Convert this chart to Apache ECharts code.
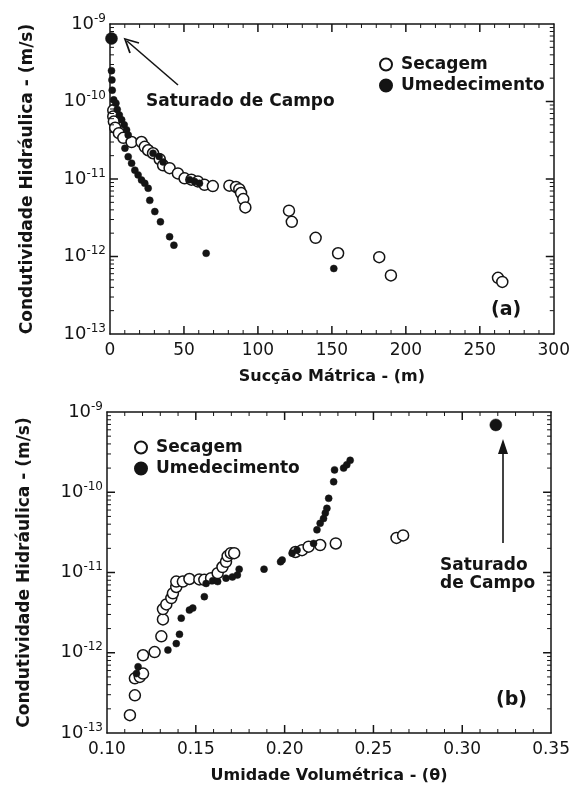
<!DOCTYPE html>
<html>
<head>
<meta charset="utf-8">
<script src="https://cdn.jsdelivr.net/npm/echarts@6/dist/echarts.min.js"></script>
<style>
  html, body { margin: 0; padding: 0; background: #fff; }
  #chart { width: 573px; height: 791px; }
</style>
</head>
<body>
<div id="chart"></div>
<script>
// (a) condutividade x succao matrica
const secagemA = [
  [2.2, 7.7e-11], [2.2, 6.4e-11], [2.6, 5.5e-11], [3.5, 4.6e-11], [6, 3.9e-11], [9, 3.4e-11],
  [14.6, 3.0e-11], [21.3, 3.0e-11], [23.5, 2.6e-11], [25.8, 2.35e-11], [29.1, 2.15e-11],
  [33.6, 1.8e-11], [35.9, 1.5e-11], [40.3, 1.38e-11], [45.9, 1.18e-11], [50.4, 1.02e-11],
  [55, 9.8e-12], [59.4, 9.3e-12], [63.9, 8.4e-12], [69.5, 8.1e-12], [80.7, 8.2e-12],
  [85.2, 7.9e-12], [87.4, 7.4e-12], [88.6, 6.6e-12], [90.1, 5.5e-12], [91.5, 4.3e-12],
  [121, 3.9e-12], [122.9, 2.8e-12], [139, 1.74e-12], [154.2, 1.1e-12], [182, 9.8e-13],
  [189.9, 5.7e-13], [262.3, 5.3e-13], [265.2, 4.7e-13]
];
const umedecimentoA = [
  [1, 2.5e-10], [1.3, 1.9e-10], [1.5, 1.4e-10], [2.5, 1.05e-10], [4, 9.5e-11], [4.9, 7.9e-11],
  [6.3, 6.7e-11], [7.9, 5.8e-11], [9.6, 5.0e-11], [11.2, 4.3e-11], [12.3, 3.7e-11],
  [10.1, 2.5e-11], [12.3, 1.94e-11], [14.6, 1.6e-11], [16.8, 1.3e-11], [19, 1.13e-11],
  [21.3, 9.7e-12], [23.5, 8.8e-12], [25.8, 7.6e-12], [26.9, 5.3e-12], [30.3, 3.8e-12],
  [34.1, 2.8e-12], [40.3, 1.8e-12], [43.2, 1.4e-12], [65, 1.1e-12], [151.3, 7e-13],
  [29.1, 2.15e-11], [33.2, 1.95e-11], [35.9, 1.66e-11], [53.8, 9.8e-12], [57.2, 9.3e-12], [60.5, 8.8e-12]
];
const saturadoA = [[1, 6.5e-10]];

// (b) condutividade x umidade volumetrica
const secagemB = [
  [0.1129, 1.67e-13], [0.1157, 2.95e-13], [0.1157, 4.8e-13], [0.1185, 5.0e-13], [0.1203, 5.5e-13],
  [0.1203, 9.3e-13], [0.1268, 1.02e-12], [0.1306, 1.6e-12], [0.1315, 2.6e-12], [0.1315, 3.5e-12],
  [0.1334, 4.0e-12], [0.1362, 4.8e-12], [0.1371, 5.5e-12], [0.139, 6.6e-12], [0.139, 7.7e-12],
  [0.1427, 7.7e-12], [0.1464, 8.3e-12], [0.152, 8.2e-12], [0.1548, 8.1e-12], [0.1586, 8.5e-12],
  [0.1623, 9.8e-12], [0.165, 1.17e-11], [0.167, 1.36e-11], [0.1679, 1.6e-11], [0.1697, 1.74e-11],
  [0.1716, 1.74e-11], [0.2061, 1.8e-11], [0.2098, 1.9e-11], [0.2135, 2.1e-11], [0.22, 2.2e-11],
  [0.2288, 2.3e-11], [0.263, 2.7e-11], [0.2667, 2.9e-11]
];
const umedecimentoB = [
  [0.1166, 5.5e-13], [0.1175, 6.7e-13], [0.1343, 1.08e-12], [0.139, 1.3e-12], [0.1408, 1.7e-12],
  [0.1418, 2.7e-12], [0.1464, 3.4e-12], [0.1483, 3.6e-12], [0.1548, 5.0e-12], [0.1558, 7.3e-12],
  [0.1595, 7.9e-12], [0.1623, 7.7e-12], [0.167, 8.5e-12], [0.1706, 8.8e-12], [0.1734, 9.3e-12],
  [0.1744, 1.1e-11], [0.1884, 1.1e-11], [0.1977, 1.36e-11], [0.1986, 1.43e-11], [0.2042, 1.74e-11],
  [0.207, 1.9e-11], [0.2163, 2.3e-11], [0.2182, 3.4e-11], [0.22, 4.1e-11], [0.2219, 4.7e-11],
  [0.2229, 5.5e-11], [0.2238, 6.3e-11], [0.2248, 8.4e-11], [0.2276, 1.35e-10], [0.2281, 1.9e-10],
  [0.2332, 2.0e-10], [0.235, 2.2e-10], [0.2369, 2.5e-10]
];
const saturadoB = [[0.3189, 6.9e-10]];

const FONT = 'DejaVu Sans';
const INK = '#141414';

// marcas dos eixos (kind: 0 x maior, 1 x menor, 2 y maior, 3 y menor)
function linTicks(min, max, step, sub) {
  const out = [];
  const n = Math.round((max - min) / step * sub);
  for (let i = 1; i < n; i++) {
    out.push([min + i * step / sub, 1e-11, i % sub === 0 ? 0 : 1]);
  }
  return out;
}
function logTicks(xmin) {
  const out = [];
  for (let e = -13; e < -9; e++) {
    for (let k = 1; k <= 9; k++) {
      if (k === 1 && e === -13) continue;
      out.push([xmin, k * Math.pow(10, e), k === 1 ? 2 : 3]);
    }
  }
  return out;
}
function tickRender(params, api) {
  const cs = params.coordSys;
  const p = api.coord([api.value(0), api.value(1)]);
  const kind = api.value(2);
  const major = kind === 0 || kind === 2;
  const len = major ? 8 : 4;
  const st = { stroke: INK, lineWidth: major ? 1.5 : 1 };
  let shapes;
  if (kind < 2) {
    const x = p[0];
    shapes = [
      { x1: x, y1: cs.y + cs.height, x2: x, y2: cs.y + cs.height - len },
      { x1: x, y1: cs.y, x2: x, y2: cs.y + len }
    ];
  } else {
    const y = p[1];
    shapes = [
      { x1: cs.x, y1: y, x2: cs.x + len, y2: y },
      { x1: cs.x + cs.width, y1: y, x2: cs.x + cs.width - len, y2: y }
    ];
  }
  return { type: 'group', children: shapes.map(s => ({ type: 'line', shape: s, style: st })) };
}
function tickSeries(data, x, y) {
  return {
    type: 'custom', xAxisIndex: x, yAxisIndex: y, data: data,
    encode: { x: 0, y: 1 }, renderItem: tickRender, silent: true, z: 5, clip: false
  };
}

// eixos
function logAxis(grid, pos, showLabel, name) {
  const ax = {
    type: 'log', logBase: 10, gridIndex: grid,
    min: 1e-13, max: 1e-9,
    name: name || '', nameLocation: 'middle', nameGap: 74,
    nameTextStyle: { fontFamily: FONT, fontWeight: 'bold', fontSize: 17, color: INK },
    axisLine: { show: true, onZero: false, lineStyle: { color: INK, width: 1.5 } },
    axisTick: { show: false },
    minorTick: { show: false },
    splitLine: { show: false },
    axisLabel: {
      show: showLabel, margin: 4, color: INK, fontFamily: FONT, fontSize: 18,
      formatter: v => '10{e|' + Math.round(Math.log10(v)) + '}',
      rich: { e: { fontSize: 12, fontFamily: FONT, color: INK, padding: [0, 0, 11, 0] } }
    }
  };
  if (pos) ax.position = pos;
  return ax;
}
function linAxis(grid, pos, showLabel, min, max, step, dec, name) {
  const ax = {
    type: 'value', gridIndex: grid, min: min, max: max, interval: step,
    name: name || '', nameLocation: 'middle', nameGap: 35,
    nameTextStyle: { fontFamily: FONT, fontWeight: 'bold', fontSize: 16, color: INK },
    axisLine: { show: true, onZero: false, lineStyle: { color: INK, width: 1.5 } },
    axisTick: { show: false },
    minorTick: { show: false },
    splitLine: { show: false },
    axisLabel: {
      show: showLabel, margin: 8, color: INK, fontFamily: FONT, fontSize: 17,
      formatter: v => v.toFixed(dec)
    }
  };
  if (pos) ax.position = pos;
  return ax;
}

function openSeries(name, data, x, y) {
  return {
    name: name, type: 'scatter', xAxisIndex: x, yAxisIndex: y, data: data,
    symbol: 'circle', symbolSize: 11, z: 3,
    itemStyle: { color: '#fff', borderColor: INK, borderWidth: 1.5, opacity: 1 }
  };
}
function fullSeries(name, data, x, y, size) {
  return {
    name: name, type: 'scatter', xAxisIndex: x, yAxisIndex: y, data: data,
    symbol: 'circle', symbolSize: size, z: 3,
    itemStyle: { color: INK, borderColor: INK, borderWidth: 0.5, opacity: 1 }
  };
}

const chart = echarts.init(document.getElementById('chart'), null, { renderer: 'canvas' });
const legendText = { fontFamily: FONT, fontWeight: 'bold', fontSize: 17, color: INK };

chart.setOption({
  backgroundColor: '#fff',
  animation: false,
  grid: [
    { left: 110, top: 24, width: 446, height: 310 },
    { left: 107, top: 412, width: 447, height: 321 }
  ],
  xAxis: [
    linAxis(0, null, true, 0, 300, 50, 0, 'Sucção Mátrica - (m)'),
    linAxis(0, 'top', false, 0, 300, 50, 0),
    linAxis(1, null, true, 0.10, 0.35, 0.05, 2, 'Umidade Volumétrica - (θ)'),
    linAxis(1, 'top', false, 0.10, 0.35, 0.05, 2)
  ],
  yAxis: [
    logAxis(0, null, true, 'Condutividade Hidráulica - (m/s)'),
    logAxis(0, 'right', false),
    logAxis(1, null, true, 'Condutividade Hidráulica - (m/s)'),
    logAxis(1, 'right', false)
  ],
  legend: [
    {
      left: 374, top: 51, orient: 'vertical', itemGap: 4, itemWidth: 20, itemHeight: 12,
      icon: 'circle', textStyle: legendText, data: ['Secagem', 'Umedecimento']
    },
    {
      left: 129, top: 434, orient: 'vertical', itemGap: 4, itemWidth: 20, itemHeight: 12,
      icon: 'circle', textStyle: legendText, data: ['Secagem', 'Umedecimento']
    }
  ],
  series: [
    tickSeries(linTicks(0, 300, 50, 5).concat(logTicks(0)), 0, 0),
    tickSeries(linTicks(0.10, 0.35, 0.05, 5).concat(logTicks(0.10)), 2, 2),
    openSeries('Secagem', secagemA, 0, 0),
    fullSeries('Umedecimento', umedecimentoA, 0, 0, 7),
    fullSeries('Saturado de Campo', saturadoA, 0, 0, 12),
    openSeries('Secagem', secagemB, 2, 2),
    fullSeries('Umedecimento', umedecimentoB, 2, 2, 7),
    fullSeries('Saturado de Campo', saturadoB, 2, 2, 12)
  ],
  graphic: [
    // seta (a)
    { type: 'line', shape: { x1: 178, y1: 85, x2: 127, y2: 41 }, style: { stroke: INK, lineWidth: 1.6 } },
    { type: 'polyline', shape: { points: [[130, 53], [125, 39], [139, 43]] }, style: { stroke: INK, lineWidth: 1.8, fill: null } },
    { type: 'text', left: 146, top: 93, style: { text: 'Saturado de Campo', font: 'bold 17px "DejaVu Sans"', fill: INK } },
    { type: 'text', left: 491, top: 301, style: { text: '(a)', font: 'bold 19px "DejaVu Sans"', fill: INK } },
    // seta (b)
    { type: 'line', shape: { x1: 503, y1: 543, x2: 503, y2: 442 }, style: { stroke: INK, lineWidth: 1.6 } },
    { type: 'polygon', shape: { points: [[498, 454], [503, 439], [508, 454]] }, style: { fill: INK } },
    { type: 'text', left: 440, top: 557, style: { text: 'Saturado\nde Campo', font: 'bold 17px "DejaVu Sans"', lineHeight: 18, fill: INK } },
    { type: 'text', left: 496, top: 691, style: { text: '(b)', font: 'bold 19px "DejaVu Sans"', fill: INK } }
  ]
});
</script>
</body>
</html>
